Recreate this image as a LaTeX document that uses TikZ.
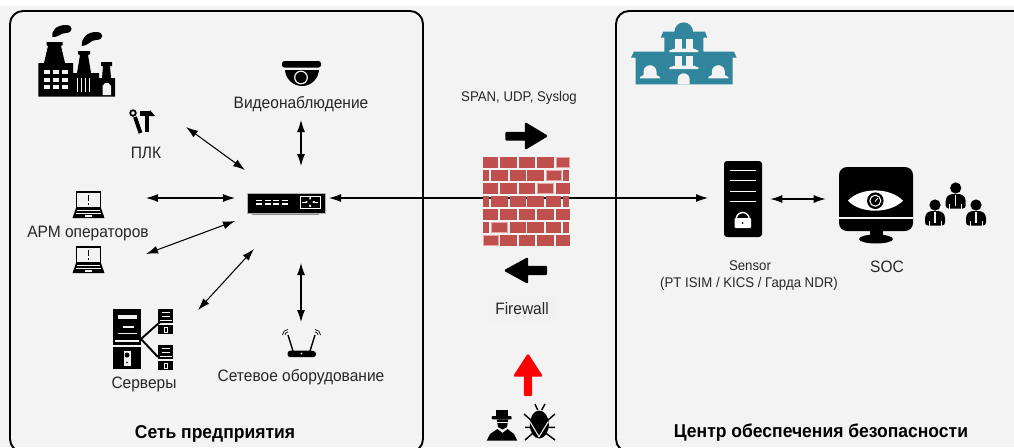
\documentclass[tikz,border=0pt]{standalone}
\usepackage{fontspec}
\setmainfont[FakeStretch=0.94]{Liberation Sans}
\usetikzlibrary{arrows.meta}

\definecolor{panelgray}{HTML}{F3F3F3}
\definecolor{brick}{HTML}{C0504D}
\definecolor{brickedge}{HTML}{E6A5A3}
\definecolor{bankblue}{HTML}{31859C}

\tikzset{
	label16/.style={font=\fontsize{9.4pt}{11pt}\selectfont,inner sep=0pt,text=black!85},
	label14/.style={font=\fontsize{8pt}{10pt}\selectfont,inner sep=0pt,text=black!85},
	title16/.style={font=\fontsize{10.6pt}{12pt}\selectfont\bfseries,inner sep=0pt},
	spot/.style={inner sep=0pt,minimum width=#1*0.02cm},
	spotheight/.style={minimum height=#1*0.02cm},
	link/.style={<->,line width=0.6pt},
	bigarrow/.style={fill=black,draw=black,line width=1.4pt,line join=round}
}

\begin{document}
\begin{tikzpicture}[x=0.02cm,y=-0.02cm,>={Latex[length=2.4mm,width=1.6mm]}]

\useasboundingbox (0,0) rectangle (1014,447);
\fill[white] (0,0) rectangle (1014,447);
\fill[panelgray] (0,6) rectangle (1014,447);

\begin{scope}
\clip (0,0) rectangle (1014,447);
\draw[line width=1.1pt,rounded corners=0.26cm] (10,11) rectangle (423,452);
\draw[line width=1.1pt,rounded corners=0.26cm] (616,11) rectangle (1040,452);
\end{scope}

% factory
\fill (38.3,96.7)--(38.3,63)--(44,63)--(48,46)--(46.5,45)--(46.5,42)--(62.5,42)--(62.5,45)--(61,46)--(65,63)--(73,63)--(73,73)--(77,73)--(80,55)--(78,54)--(78,51)--(90,51)--(90,54)--(88,55)--(91,73)--(99,73)--(99,78)--(102,78)--(103,66)--(101,66)--(101,62)--(112,62)--(112,66)--(110,66)--(111,78)--(115,78)--(115,96.7)--cycle;
\foreach \x in {43.5,52.5,62}{
	\foreach \y in {70,77.5,85}{
		\fill[panelgray] (\x,\y) rectangle +(6,4);
	}
}
\foreach \x in {76.5,80.5,84.5,88.5}{
	\fill[panelgray] (\x,78) rectangle +(1.6,14);
}
\fill[panelgray] (102.5,95) -- (102.5,86) -- (105,83) -- (108.5,83) -- (111,86) -- (111,95) -- cycle;
\fill (52.5,37) .. controls (51,30) and (57,25) .. (66,25) .. controls (74,25) and (73,33) .. (66,33) .. controls (60,33) and (60,37) .. (52.5,37);
\fill (82,46) .. controls (81,38) and (87,32) .. (96,32) .. controls (105,32) and (104,40) .. (96,40) .. controls (90,40) and (90,45) .. (82,46);

% tools of the plc
\draw[line width=1pt] (133,113) circle (2.8);
\draw[line width=2.2pt] (135,117) -- (140.5,133);
\draw[line width=2.2pt] (147,112) -- (147,132);
\fill (140,111) rectangle (150,116);
\fill (150,110) -- (155,116) -- (150,116) -- cycle;

% laptops
\foreach \y in {192,247}{
	\draw[line width=0.8pt] (76.5,\y) rectangle (100.5,\y+16);
	\draw[line width=0.6pt] (88.5,\y+3) -- (88.5,\y+9) (88.5,\y+11) -- (88.5,\y+12.5);
	\fill (76,\y+16) -- (101,\y+16) -- (104.5,\y+26) -- (72.5,\y+26) -- cycle;
	\draw[panelgray,line width=0.4pt] (77,\y+18.5) -- (100,\y+18.5) (76,\y+21) -- (101,\y+21);
	\fill[panelgray] (85,\y+23) rectangle (92,\y+25);
}

% camera
\fill[rounded corners=0.05cm] (282,61) rectangle (321,67.5);
\fill (285,69) -- (319,69) arc[start angle=0,end angle=-180,x radius=17,y radius=-17] -- cycle;
\draw[panelgray,line width=0.7pt] (301,77.5) circle (6.3);
\draw[panelgray,line width=0.5pt] (285,69.6) -- (319,69.6);

% switch
\fill[black!45] (252,213) rectangle (319,215);
\node[spot=78,spotheight=20,fill=black,draw=black!30,line width=0.5pt] (switch) at (286,203) {};
\foreach \x in {256,264.5,273,281.5}{
	\draw[white,line width=0.6pt] (\x,200.5) -- +(6,0) (\x,204) -- +(6,0);
}
\draw[white,line width=0.5pt] (300,196) rectangle (320,208.5);
\draw[white,line width=0.4pt,-{Latex[length=0.5mm,width=0.5mm]}] (302,202) -- (308,202);
\draw[white,line width=0.4pt,-{Latex[length=0.5mm,width=0.5mm]}] (318,202) -- (312,202);
\draw[white,line width=0.4pt,-{Latex[length=0.5mm,width=0.5mm]}] (310,207) -- (310,204);
\draw[white,line width=0.4pt,-{Latex[length=0.5mm,width=0.5mm]}] (310,197) -- (310,200);

% servers
\fill (113,309) rectangle (141,345);
\fill (113,347) rectangle (141,369);
\fill[panelgray] (117.5,315) rectangle (137,319);
\draw[panelgray,line width=0.6pt] (122.5,327) -- (133.5,327) (117.5,333.5) -- (137,333.5) (115,341) -- (139,341);
\fill[panelgray] (123.5,351) rectangle (131,366);
\fill (127,355) circle (2.5);
\fill (127,362.5) circle (0.9);
\foreach \y in {309,345}{
	\fill (158,\y) rectangle (173,\y+14);
	\fill (158,\y+16) rectangle (173,\y+25);
	\draw[panelgray,line width=0.5pt] (162,\y+3) -- (170,\y+3) (162,\y+7) -- (170,\y+7) (160,\y+11) -- (172,\y+11);
	\draw[panelgray,line width=0.4pt] (164,\y+18) rectangle (167,\y+23);
}
\draw[line width=1.1pt] (141,339) -- (160,322) (141,339) -- (158,357);

% router
\fill[rounded corners=0.05cm] (287.5,351) -- (292,350.5) -- (311,350.5) -- (316,351.5) -- (316,357) -- (287.5,357) -- cycle;
\fill[white] (301.5,353.5) circle (0.8);
\draw[line width=0.8pt] (293,351) -- (288,335) (310,351) -- (315,335);
\foreach \r in {3,5.5}{
	\draw[line width=0.4pt] (288,335) ++(-\r,0) arc[start angle=180,end angle=270,radius=\r];
	\draw[line width=0.4pt] (315,335) ++(\r,0) arc[start angle=0,end angle=-90,radius=\r];
}

% connector through the firewall
\coordinate (switcheast) at (329,198);
\coordinate (sensorwest) at (708,198);
\draw[link] (switcheast) -- (sensorwest);

% firewall
\foreach \y in {157,170,183,196,209,222,235}{
	\pgfmathparse{int(mod((\y-157)/13,2))}
	\ifnum\pgfmathresult=0
		\foreach \a/\b in {483.3/498.3,500/517.3,519.3/535,537/554,556/570}{
			\fill[brick] (\a,\y) rectangle (\b,\y+10.7);
		}
	\else
		\foreach \a/\b in {483.3/489,491/508,510/526,527.3/544,546/561,563/569}{
			\fill[brick] (\a,\y) rectangle (\b,\y+10.7);
		}
	\fi
}
\foreach \a/\b/\y in {556/569.5/157,546/561/170,537/553.5/183,491/507.5/222,483.3/498.3/235}{
	\draw[brickedge,line width=0.5pt] (\a,\y) rectangle (\b,\y+10.7);
}
\node[spot=87,spotheight=89] (firewall) at (526.5,201.5) {};

% arrows around the firewall
\draw[bigarrow] (506.5,133) -- (526,133) -- (526,124) -- (546,136) -- (526,148) -- (526,139.5) -- (506.5,139.5) -- cycle;
\draw[bigarrow] (546,267) -- (527,267) -- (527,259) -- (506,270.5) -- (527,282) -- (527,274) -- (546,274) -- cycle;
\draw[fill=red,draw=red,line width=1.4pt,line join=round] (525,395) -- (531,395) -- (531,375.5) -- (541,375.5) -- (528,355.5) -- (515,375.5) -- (525,375.5) -- cycle;

% hacker and bug
\fill (496,410) rectangle (508.3,416);
\fill[rounded corners=0.02cm] (491.7,416) rectangle (511.7,419.3);
\fill (496.7,419.3) -- (508.3,419.3) -- (507,427) -- (502.5,429.5) -- (498,427) -- cycle;
\draw[panelgray,line width=0.6pt] (497,422.6) -- (508,422.6);
\fill (486.7,440.7) -- (490,434) -- (497.5,429) -- (502.5,433) -- (507.5,429) -- (514,434) -- (517.3,440.7) -- cycle;
\fill (539.3,424.5) ellipse (9.5 and 14);
\draw[line width=0.8pt] (537.7,410) -- (535,404) (541.7,410) -- (545,404);
\draw[line width=0.8pt] (524,414) -- (532.7,421.7) (555,414) -- (546,421.7) (525,427.3) -- (555,427.3) (525,440) -- (532.7,433.3) (555,440) -- (546,433.3);
\draw[panelgray,line width=0.6pt] (530,421.7) -- (539,436.7) -- (548.3,421.7);

% building
\fill[bankblue] (631,57.7) -- (634,51.7) -- (664.3,51.7) -- (664.3,37.7) -- (660.7,37.7) -- (663.3,31.7) -- (674.4,31.7) arc[start angle=180,end angle=360,radius=9.3] -- (705,31.7) -- (707.3,37.7) -- (703.3,37.7) -- (703.3,51.7) -- (734,51.7) -- (736.7,57.7) -- (732.7,57.7) -- (732.7,84.3) -- (635.7,84.3) -- (635.7,57.7) -- cycle;
\foreach \x in {650,718.3}{
	\fill[panelgray] (\x-10,78.3) -- (\x-10,77) -- (\x-6.5,75) -- (\x-6.5,71.7) arc[start angle=180,end angle=360,radius=6.5] -- (\x+6.5,75) -- (\x+10,77) -- (\x+10,78.3) -- cycle;
}
\fill[panelgray] (677.7,84.3) -- (677.7,79.3) arc[start angle=180,end angle=360,radius=6] -- (689.7,84.3) -- cycle;
\foreach \y in {39,56}{
	\fill[panelgray] (675,\y) rectangle (682.3,\y+9.5);
	\fill[panelgray] (685.7,\y) rectangle (693.3,\y+9.5);
	\fill[panelgray] (675,\y+9.5) -- (669.3,\y+11.5) -- (669.3,\y+13) -- (698.3,\y+13) -- (698.3,\y+11.5) -- (693.3,\y+9.5) -- cycle;
}

% sensor
\node[spot=38,spotheight=76,fill=black,rounded corners=0.06cm] (sensor) at (743,199) {};
\foreach \y in {170,180.5,191,201.5}{
	\draw[white,line width=0.5pt] (730,\y) -- (756,\y);
}
\draw[white,line width=0.8pt] (736.2,219) arc[start angle=180,end angle=360,radius=6.5];
\fill[white,rounded corners=0.02cm] (734.5,218) rectangle (751,228);
\fill (742.7,223) circle (1);

% soc
\fill (870,230) rectangle (883,237);
\fill (876,239) ellipse (17 and 4.5);
\node[spot=74,spotheight=64,fill=black,rounded corners=0.16cm] (soc) at (876,199) {};
\draw[panelgray,line width=0.7pt] (839,218) -- (913,218);
\fill[white] (848,200.7) .. controls (860,187) and (890,187) .. (903,200.7) .. controls (890,214) and (860,214) .. (848,200.7) -- cycle;
\fill (875.3,200.7) circle (8.3);
\draw[white,line width=0.6pt] (875.3,200.7) circle (5.5);
\draw[white,line width=0.5pt] (875,201.5) -- (878,198);

% people
\foreach \x/\y in {935/199,955.7/182,976/199}{
	\fill (\x,\y+6) circle (5.6);
	\fill[rounded corners=0.06cm] (\x-10,\y+26.5) -- (\x-10,\y+16) -- (\x-6,\y+12) -- (\x+6,\y+12) -- (\x+10,\y+16) -- (\x+10,\y+26.5) -- cycle;
	\draw[panelgray,line width=0.7pt] (\x,\y+13) -- (\x,\y+24);
	\draw[panelgray,line width=0.4pt] (\x-6,\y+22) -- (\x-6,\y+26.5) (\x+6,\y+22) -- (\x+6,\y+26.5);
}

% labels
\node[label16] (plklabel) at (146,153) {ПЛК};
\node[label16] (videolabel) at (301,104) {Видеонаблюдение};
\node[label16] (armlabel) at (88,234) {АРМ операторов};
\node[label16] (serverlabel) at (144,384) {Серверы};
\node[label16] (netlabel) at (301,377) {Сетевое оборудование};
\node[label14] (spanlabel) at (519,98) {SPAN, UDP, Syslog};
\node[label16,fill=black!5.5,inner sep=4pt] (fwlabel) at (522,309) {Firewall};
\node[label14] (sensorlabel) at (750,266) {Sensor};
\node[label14] (ptlabel) at (749,284) {(PT ISIM / KICS / Гарда NDR)};
\node[label16] (soclabel) at (887,267) {SOC};
\node[title16] (lefttitle) at (215,434) {Сеть предприятия};
\node[title16] (righttitle) at (821,433) {Центр обеспечения безопасности};

% connector ends
\coordinate (plkend) at (186,127);
\coordinate (plkhub) at (245,170);
\coordinate (videoend) at (301,120);
\coordinate (videohub) at (301,166);
\coordinate (armtop) at (146,198);
\coordinate (armhub) at (235,198);
\coordinate (armlow) at (146,254);
\coordinate (armlowhub) at (235,221);
\coordinate (serverend) at (198,310);
\coordinate (serverhub) at (254,249);
\coordinate (netend) at (301,322);
\coordinate (nethub) at (301,263);

\draw[link] (plkend) -- (plkhub);
\draw[link] (videoend) -- (videohub);
\draw[link] (armtop) -- (armhub);
\draw[link] (armlow) -- (armlowhub);
\draw[link] (serverend) -- (serverhub);
\draw[link] (netend) -- (nethub);
\draw[link,shorten <=8*0.02cm,shorten >=13*0.02cm] (sensor) -- (soc);

\end{tikzpicture}
\end{document}
